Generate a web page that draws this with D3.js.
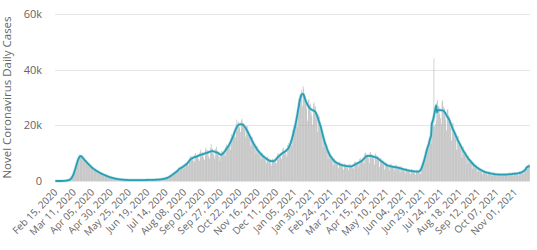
<!DOCTYPE html>
<html>
<head>
<meta charset="utf-8">
<style type="text/css">
body { margin: 0; background: #fff; }
svg { font-family: "Open Sans", sans-serif; }
.grid line { stroke: #e6e6e6; stroke-width: 1; }
.ytick { fill: #666; font-size: 11px; }
.xtick { fill: #666; font-size: 10px; }
.ytitle { fill: #666; font-size: 11.5px; }
.bar { fill: #a8a8a8; }
.avg-halo { stroke: #9ad8e2; stroke-width: 3.2; fill: none; stroke-opacity: 0.6; }
.avg { stroke: #2a9db3; stroke-width: 1.8; fill: none; }
</style>
<script src="https://d3js.org/d3.v7.min.js"></script>
</head>
<body>
<script type="text/javascript">
var width  = 537;
var height = 250;

// first day of the series
var startDate = "2020-02-15";

// daily new cases, in thousands, one row per week
var dailyCases = [
	0,0,0,0,0,0,0,
	0,0,0,0,0,0,0.1,
	0.1,0.1,0.2,0.2,0.3,0.3,0.4,
	0.6,0.9,1.2,1.8,2.5,3.2,4.1,
	5,6,7,8,8.9,9.6,9.2,
	9.2,8.6,8.8,8.0,7.7,7.1,7.4,
	6.8,6.4,6.9,6.1,5.7,5.2,5.5,
	4.9,4.6,4.8,4.3,4.0,3.8,4.1,
	3.6,3.4,3.5,3.1,2.9,2.7,3.0,
	2.6,2.4,2.5,2.2,2.0,1.9,2.1,
	1.8,1.6,1.7,1.4,1.3,1.2,1.4,
	1.2,1.0,1.1,0.9,0.8,0.8,0.9,
	0.7,0.6,0.7,0.6,0.5,0.5,0.6,
	0.5,0.4,0.5,0.4,0.4,0.3,0.4,
	0.4,0.3,0.4,0.3,0.3,0.3,0.4,
	0.3,0.3,0.4,0.3,0.3,0.2,0.3,
	0.3,0.3,0.4,0.3,0.3,0.3,0.3,
	0.3,0.4,0.4,0.3,0.3,0.3,0.4,
	0.4,0.4,0.5,0.4,0.3,0.3,0.4,
	0.4,0.5,0.5,0.4,0.4,0.4,0.5,
	0.5,0.6,0.6,0.5,0.5,0.6,0.7,
	0.8,0.9,0.9,0.8,0.9,1.0,1.2,
	1.3,1.6,1.8,1.7,1.9,2.1,2.4,
	2.6,2.9,3.2,3.0,3.3,3.6,3.9,
	3.6,4.8,5.2,4.9,5.1,4.6,4.4,
	4.8,6.2,6.6,6.3,6.4,5.8,5.5,
	6.6,8.3,9.0,8.6,8.9,7.9,7.3,
	6.9,9.5,10.1,9.2,9.6,8.4,7.8,
	7.2,10.6,11.3,10.1,10.4,8.9,8.1,
	7.6,11.2,12.0,10.9,11.1,9.4,8.6,
	8.0,11.9,13.2,11.4,11.6,9.9,9.0,
	7.9,11.6,12.4,11.0,10.8,9.2,8.6,
	7.2,10.1,10.8,9.9,10.2,9.6,9.8,
	8.9,12.4,13.1,12.2,12.9,12.1,12.6,
	11.2,15.4,16.8,15.9,17.0,16.2,16.8,
	15.8,20.4,22.1,20.6,21.3,19.5,19.2,
	17.6,21.8,22.4,21.0,20.7,19.3,18.9,
	15.9,19.6,19.8,18.1,17.4,16.0,15.2,
	12.6,15.9,15.8,14.1,13.6,12.3,11.5,
	9.8,12.6,12.4,11.2,10.8,9.6,9.1,
	7.8,10.3,10.1,9.2,8.9,8.0,7.4,
	6.4,8.8,8.6,7.8,7.6,6.9,6.4,
	5.6,7.9,8.0,7.4,7.5,6.9,6.6,
	6.4,9.6,10.1,9.4,9.6,8.8,8.5,
	7.8,11.4,11.9,10.8,11.0,10.1,9.6,
	8.6,12.9,13.6,12.4,13.1,12.6,12.9,
	12.4,18.2,19.6,18.9,20.4,19.8,20.6,
	19.4,27.2,29.6,28.8,31.4,30.2,32.6,
	26.8,34.1,33.2,31.0,30.4,27.6,26.1,
	21.6,28.9,29.4,27.2,27.8,24.6,23.3,
	20.2,27.6,28.3,26.4,26.9,23.4,22.1,
	17.6,23.9,23.2,21.4,20.6,18.1,16.4,
	12.1,16.4,15.6,14.1,13.3,11.4,10.6,
	7.9,10.9,10.4,9.4,9.0,7.8,7.3,
	5.6,8.1,7.9,7.2,6.9,6.1,5.8,
	4.6,6.9,6.8,6.2,6.0,5.4,5.2,
	4.1,6.3,6.2,5.7,5.6,5.0,4.9,
	3.9,6.1,6.0,5.4,5.5,4.9,4.8,
	4.3,6.9,7.0,6.4,6.5,5.9,5.8,
	5.0,7.9,8.1,7.4,7.6,6.8,6.9,
	6.1,9.9,10.3,9.4,9.6,8.6,8.4,
	6.4,10.2,10.5,9.6,9.4,8.4,8.0,
	5.9,9.6,9.9,9.1,8.9,7.8,7.4,
	5.0,8.1,8.3,7.5,7.3,6.4,6.1,
	4.1,6.6,6.7,6.1,5.9,5.1,4.9,
	3.7,6.0,6.1,5.5,5.4,4.7,4.5,
	3.4,5.7,5.8,5.2,5.1,4.4,4.3,
	3.1,5.2,5.2,4.7,4.5,3.9,3.7,
	2.7,4.6,4.7,4.1,4.0,3.4,3.2,
	2.5,4.2,4.3,3.8,3.7,3.1,3.0,
	2.3,4.0,4.1,3.6,3.5,3.0,2.9,
	2.6,4.8,5.6,6.1,7.2,7.8,8.9,
	7.8,11.2,12.6,13.4,14.9,14.2,13.9,
	13.2,18.6,20.4,19.8,44.0,19.6,20.4,
	21.8,28.2,29.1,27.0,26.6,23.8,22.6,
	20.6,28.4,29.1,26.8,26.2,23.4,22.1,
	18.2,25.6,25.9,23.6,23.1,20.4,19.1,
	14.6,20.6,20.9,18.9,18.4,16.2,15.1,
	11.2,16.1,16.2,14.6,14.2,12.4,11.6,
	8.4,12.2,12.3,11.0,10.6,9.3,8.6,
	6.1,9.0,9.1,8.1,7.8,6.8,6.3,
	4.4,6.6,6.7,5.9,5.7,4.9,4.6,
	3.3,5.0,5.1,4.5,4.3,3.7,3.5,
	2.5,3.9,4.0,3.5,3.3,2.9,2.7,
	2.1,3.3,3.4,3.0,2.9,2.4,2.3,
	1.8,2.9,3.0,2.6,2.5,2.1,2.0,
	1.6,2.7,2.8,2.5,2.4,2.0,1.9,
	1.7,2.8,2.9,2.5,2.4,2.0,1.9,
	1.7,2.9,3.0,2.6,2.6,2.2,2.1,
	1.9,3.1,3.2,2.8,2.8,2.4,2.3,
	2.0,3.4,3.5,3.2,3.3,2.9,2.9,
	2.6,4.3,4.6,4.4,4.8,4.6,5.1,
	6.2,5.8
];

var yTicks = [0, 20, 40, 60];
var tickLabels = ["Feb 15, 2020","Mar 11, 2020","Apr 05, 2020","Apr 30, 2020","May 25, 2020",
	"Jun 19, 2020","Jul 14, 2020","Aug 08, 2020","Sep 02, 2020","Sep 27, 2020","Oct 22, 2020",
	"Nov 16, 2020","Dec 11, 2020","Jan 05, 2021","Jan 30, 2021","Feb 24, 2021","Mar 21, 2021",
	"Apr 15, 2021","May 10, 2021","Jun 04, 2021","Jun 29, 2021","Jul 24, 2021","Aug 18, 2021",
	"Sep 12, 2021","Oct 07, 2021","Nov 01, 2021"];

var fmt = d3.timeFormat("%b %d, %Y");
var day0 = d3.timeParse("%Y-%m-%d")(startDate);
var data = dailyCases.map(function(v, i) {
	return { label: fmt(d3.timeDay.offset(day0, i)), value: v };
});
// centred 7 day average
data.forEach(function(d, i) {
	var win = data.slice(Math.max(0, i - 3), Math.min(data.length, i + 4));
	d.avg = d3.mean(win, function(e) { return e.value; });
});

var plotLeft = 55, plotRight = 530, plotTop = 14, plotBottom = 181;

var x = d3.scaleBand().domain(data.map(function(d) { return d.label; })).range([plotLeft, plotRight]);
var y = d3.scaleLinear().domain([0, 60]).range([plotBottom, plotTop]);

var svg = d3.select("body").append("svg").attr("width", width).attr("height", height);

svg.append("g").attr("class", "grid").selectAll("line").data(yTicks).enter().append("line")
	.attr("x1", plotLeft).attr("x2", plotRight)
	.attr("y1", function(d) { return Math.round(y(d)) + 0.5; })
	.attr("y2", function(d) { return Math.round(y(d)) + 0.5; });

svg.append("g").selectAll("text").data(yTicks).enter().append("text")
	.attr("class", "ytick")
	.attr("x", 42).attr("y", function(d) { return y(d) + 4; })
	.attr("text-anchor", "end")
	.text(function(d) { return d === 0 ? "0" : d + "k"; });

svg.append("text").attr("class", "ytitle")
	.attr("transform", "translate(11," + ((plotTop + plotBottom) / 2) + ") rotate(-90)")
	.attr("text-anchor", "middle")
	.text("Novel Coronavirus Daily Cases");

var bw = x.bandwidth();
svg.append("g").selectAll("rect").data(data).enter().append("rect")
	.attr("class", "bar")
	.attr("x", function(d) { return x(d.label); })
	.attr("width", bw * 0.7)
	.attr("y", function(d) { return y(d.value); })
	.attr("height", function(d) { return y(0) - y(d.value); });

var line = d3.line()
	.x(function(d) { return x(d.label) + bw / 2; })
	.y(function(d) { return y(d.avg); })
	.curve(d3.curveMonotoneX);
svg.append("path").datum(data).attr("class", "avg-halo").attr("d", line);
svg.append("path").datum(data).attr("class", "avg").attr("d", line);

svg.append("g").selectAll("text").data(tickLabels).enter().append("text")
	.attr("class", "xtick")
	.attr("text-anchor", "end")
	.attr("transform", function(d) {
		return "translate(" + (x(d) + bw / 2 + 3) + "," + (plotBottom + 12) + ") rotate(-45)";
	})
	.text(function(d) { return d; });
</script>
</body>
</html>
